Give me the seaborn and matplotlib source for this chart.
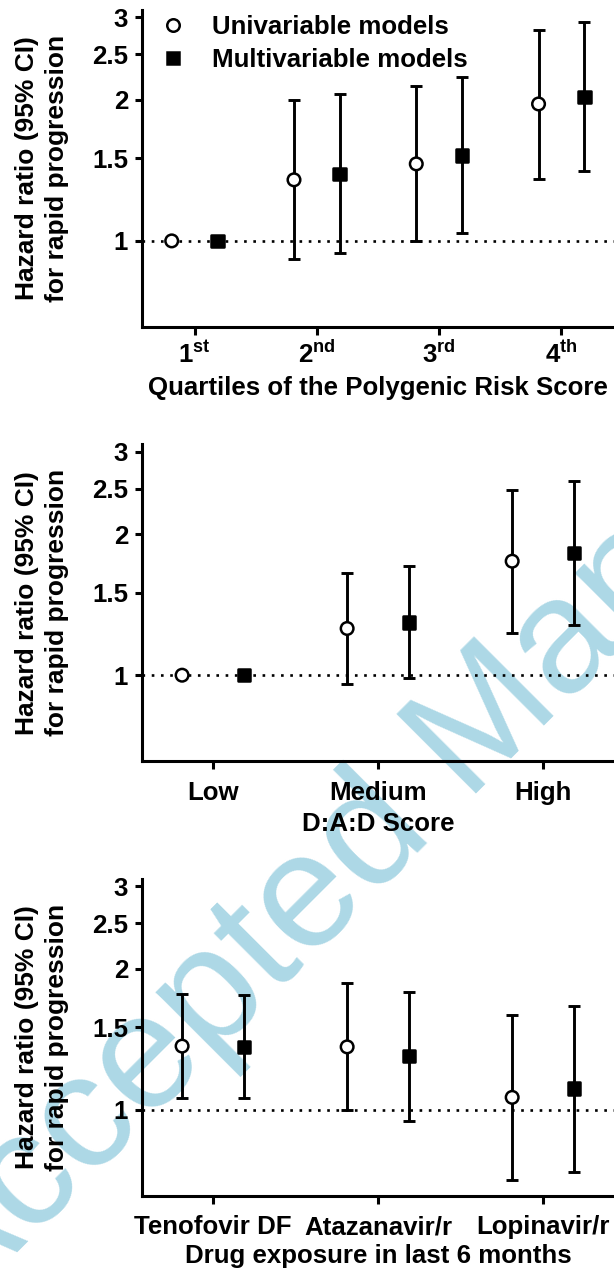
import numpy as np
import pandas as pd
import matplotlib
matplotlib.use("Agg")
import matplotlib.pyplot as plt
from matplotlib.lines import Line2D
from matplotlib.ticker import NullLocator, FixedLocator, FixedFormatter
import seaborn as sns

# ---------------- data ----------------
prs_categories = ["1st", "2nd", "3rd", "4th"]
prs_tick_labels = [r"$\mathbf{1}^{\mathrm{st}}$", r"$\mathbf{2}^{\mathrm{nd}}$",
                   r"$\mathbf{3}^{\mathrm{rd}}$", r"$\mathbf{4}^{\mathrm{th}}$"]
prs_uni_hr = [1.0, 1.35, 1.46, 1.96]
prs_uni_lo = [np.nan, 0.914, 1.0, 1.356]
prs_uni_hi = [np.nan, 2.0, 2.145, 2.82]
prs_multi_hr = [1.0, 1.39, 1.52, 2.03]
prs_multi_lo = [np.nan, 0.944, 1.039, 1.413]
prs_multi_hi = [np.nan, 2.06, 2.235, 2.93]

dad_categories = ["Low", "Medium", "High"]
dad_uni_hr = [1.0, 1.258, 1.751]
dad_uni_lo = [np.nan, 0.957, 1.233]
dad_uni_hi = [np.nan, 1.65, 2.482]
dad_multi_hr = [1.0, 1.295, 1.824]
dad_multi_lo = [np.nan, 0.985, 1.281]
dad_multi_hi = [np.nan, 1.706, 2.594]

drug_categories = ["Tenofovir DF", "Atazanavir/r", "Lopinavir/r"]
drug_uni_hr = [1.366, 1.361, 1.062]
drug_uni_lo = [1.061, 0.998, 0.709]
drug_uni_hi = [1.765, 1.866, 1.595]
drug_multi_hr = [1.359, 1.30, 1.109]
drug_multi_lo = [1.058, 0.947, 0.736]
drug_multi_hi = [1.755, 1.786, 1.667]

y_ticks = [1, 1.5, 2, 2.5, 3]
y_tick_labels = ["1", "1.5", "2", "2.5", "3"]
model_names = ["Univariable models", "Multivariable models"]
x_labels = ["Quartiles of the Polygenic Risk Score", "D:A:D Score",
            "Drug exposure in last 6 months"]
y_label = "Hazard ratio (95% CI)\nfor rapid progression"

# ---------------- style ----------------
sns.set_theme(style="ticks")
plt.rcParams["font.family"] = ["Liberation Sans", "DejaVu Sans"]
plt.rcParams["font.weight"] = "bold"
plt.rcParams["text.color"] = "black"
plt.rcParams["axes.labelcolor"] = "black"
plt.rcParams["xtick.color"] = "black"
plt.rcParams["ytick.color"] = "black"
plt.rcParams["mathtext.fontset"] = "custom"
plt.rcParams["mathtext.rm"] = "Liberation Sans"
plt.rcParams["mathtext.bf"] = "Liberation Sans:bold"
plt.rcParams["mathtext.it"] = "Liberation Sans:italic"

W, H = 614, 1272
fig = plt.figure(figsize=(W / 100, H / 100), dpi=100)
fig.patch.set_facecolor("white")

# watermark behind everything
fig.text(-48 / W, 1 - 1318 / H, "Accepted Manuscript", rotation=45,
         rotation_mode="anchor", ha="left", va="baseline", fontsize=118,
         fontweight="normal", color="#add8e6", zorder=-5,
         family=["Liberation Sans", "DejaVu Sans"])

ax_h_px = 317
left_px = 142
bottoms_px = [327, 761.3, 1195.7]
axes = [fig.add_axes([left_px / W, 1 - b / H, 1 - left_px / W, ax_h_px / H])
        for b in bottoms_px]

OFF = 0.187
LW = 2.2
FS = 18.6
palette = {"Univariable models": "white", "Multivariable models": "black"}
markers = {"Univariable models": "o", "Multivariable models": "s"}


def draw_panel(ax, cats, ticklabels, uni, ulo, uhi, mul, mlo, mhi, xlabel, tickpad,
               xlab_px):
    n = len(cats)
    pos = np.arange(n)
    df = pd.DataFrame({
        "x": np.concatenate([pos - OFF, pos + OFF]),
        "hr": np.concatenate([uni, mul]),
        "lo": np.concatenate([ulo, mlo]),
        "hi": np.concatenate([uhi, mhi]),
        "model": [model_names[0]] * n + [model_names[1]] * n,
    })
    ax.set_facecolor("none")
    ax.axhline(1, color="black", lw=1.9, ls=(0, (1, 2.5)), zorder=1)
    for m in model_names:
        d = df[df["model"] == m]
        ax.errorbar(d["x"], d["hr"], yerr=[d["hr"] - d["lo"], d["hi"] - d["hr"]],
                    fmt="none", ecolor="black", elinewidth=2.1, capsize=4.4,
                    capthick=2.1, zorder=2)
    sns.scatterplot(data=df, x="x", y="hr", hue="model", style="model",
                    palette=palette, markers=markers, s=82, edgecolor="black",
                    linewidth=1.8, legend=False, ax=ax, zorder=4, clip_on=False)
    ax.set_yscale("log")
    ax.set_ylim(0.655, 3.11)
    ax.set_xlim(-0.43, n - 1 + 0.43)
    ax.yaxis.set_major_locator(FixedLocator(y_ticks))
    ax.yaxis.set_major_formatter(FixedFormatter(y_tick_labels))
    ax.yaxis.set_minor_locator(NullLocator())
    ax.set_xticks(pos)
    ax.set_xticklabels(ticklabels)
    for s in ["top", "right"]:
        ax.spines[s].set_visible(False)
    for s in ["left", "bottom"]:
        ax.spines[s].set_linewidth(LW)
        ax.spines[s].set_color("black")
    ax.tick_params(axis="y", direction="out", length=5, width=LW, labelsize=FS,
                   pad=5, colors="black")
    ax.tick_params(axis="x", direction="out", length=6, width=LW, labelsize=FS,
                   pad=tickpad, colors="black")
    for t in ax.get_xticklabels() + ax.get_yticklabels():
        t.set_fontweight("bold")
    ax.set_xlabel(xlabel, fontsize=FS, fontweight="bold", color="black")
    ax.xaxis.set_label_coords(0.5, -xlab_px / ax_h_px)
    ax.xaxis.label.set_va("baseline")
    ax.set_ylabel(y_label, fontsize=19, fontweight="bold", color="black",
                  linespacing=1.3)
    ax.yaxis.set_label_coords((42 - left_px) / (W - left_px), 0.5)
    ax.yaxis.label.set_va("center")


draw_panel(axes[0], prs_categories, prs_tick_labels, prs_uni_hr, prs_uni_lo,
           prs_uni_hi, prs_multi_hr, prs_multi_lo, prs_multi_hi, x_labels[0], 4.0, 68)
draw_panel(axes[1], dad_categories, dad_categories, dad_uni_hr, dad_uni_lo,
           dad_uni_hi, dad_multi_hr, dad_multi_lo, dad_multi_hi, x_labels[1], 8.0, 70)
draw_panel(axes[2], drug_categories, drug_categories, drug_uni_hr, drug_uni_lo,
           drug_uni_hi, drug_multi_hr, drug_multi_lo, drug_multi_hi, x_labels[2], 8.0, 67)

handles = [
    Line2D([], [], marker="o", ls="none", mfc="white", mec="black", mew=1.8, ms=9),
    Line2D([], [], marker="s", ls="none", mfc="black", mec="black", mew=1.8, ms=8.6),
]
axes[0].legend(handles, model_names, loc="upper left",
               bbox_to_anchor=((160 - left_px) / (W - left_px), (327 - 15.5) / ax_h_px),
               frameon=False, prop={"size": FS, "weight": "bold"},
               handlelength=1.0, handletextpad=1.0, labelspacing=0.33,
               borderpad=0, borderaxespad=0)

fig.savefig("out.png", dpi=100, facecolor="white")
